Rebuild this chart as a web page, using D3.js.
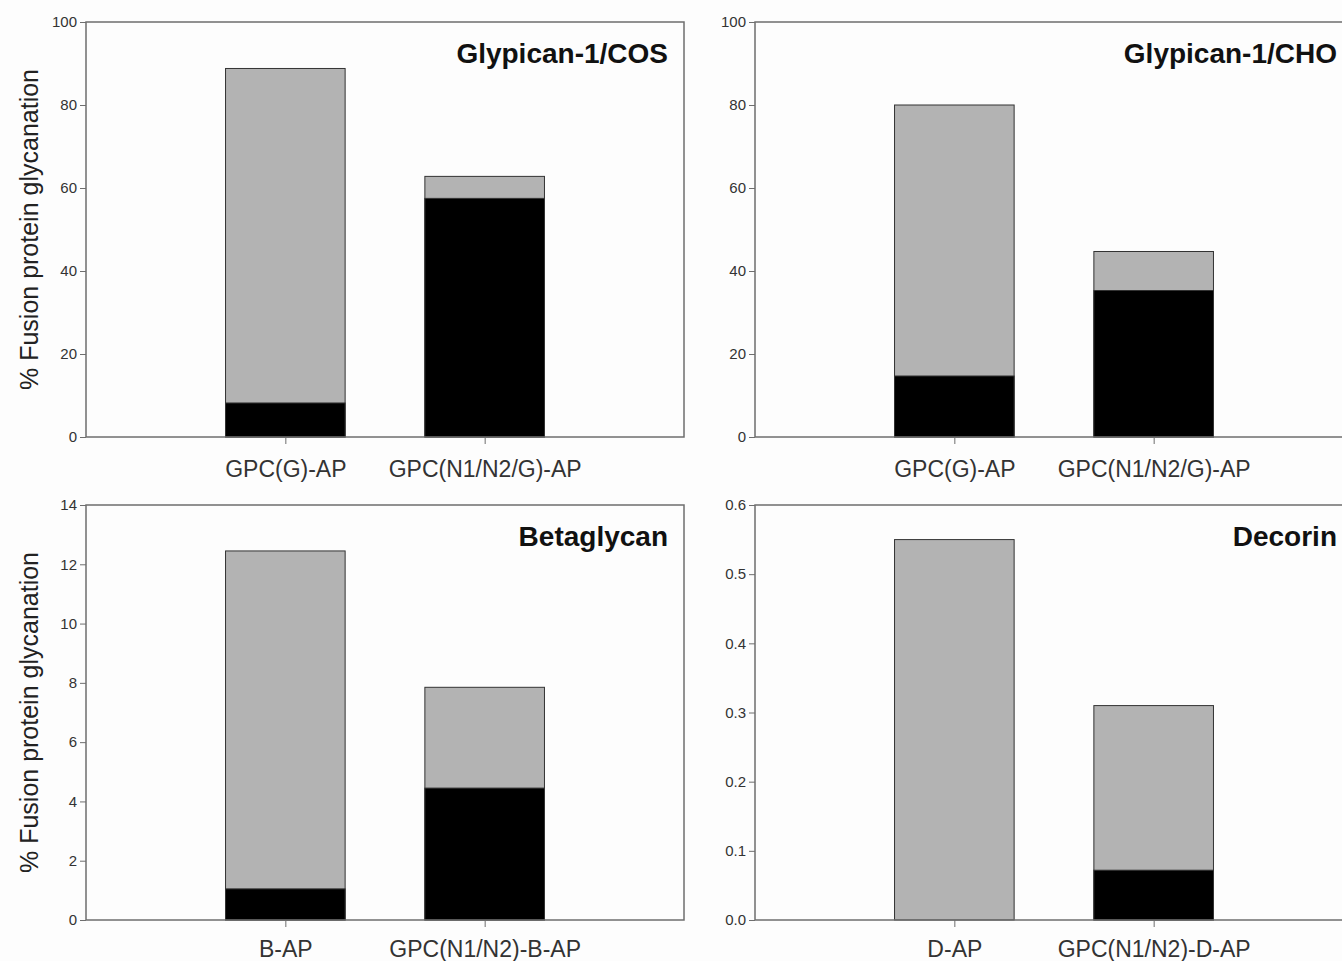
<!DOCTYPE html>
<html>
<head>
<meta charset="utf-8">
<script src="https://cdn.jsdelivr.net/npm/d3@7"></script>
<style>
  body { margin: 0; background: #fdfdfd; }
  svg { display: block; font-family: "Liberation Sans", Arial, sans-serif; }
  .tick text { fill: #333; }
</style>
</head>
<body>
<div id="chart"></div>
<script>
// panel data (one entry per panel, left-to-right, top-to-bottom)
var panelTitles = ["Glypican-1/COS", "Glypican-1/CHO", "Betaglycan", "Decorin"];

var categories = [
  ["GPC(G)-AP", "GPC(N1/N2/G)-AP"],
  ["GPC(G)-AP", "GPC(N1/N2/G)-AP"],
  ["B-AP", "GPC(N1/N2)-B-AP"],
  ["D-AP", "GPC(N1/N2)-D-AP"]
];

// total height of each bar (grey + black)
var totalValues = [
  [88.8, 62.8],
  [80.0, 44.7],
  [12.45, 7.85],
  [0.55, 0.31]
];

// black (lower) part of each bar
var blackValues = [
  [8.2, 57.5],
  [14.7, 35.3],
  [1.05, 4.45],
  [0, 0.072]
];

var yTickValues = [
  [0, 20, 40, 60, 80, 100],
  [0, 20, 40, 60, 80, 100],
  [0, 2, 4, 6, 8, 10, 12, 14],
  [0, 0.1, 0.2, 0.3, 0.4, 0.5, 0.6]
];
var yTickFormats = ["d", "d", "d", ".1f"];

var yLabel = "% Fusion protein glycanation";

var width = 1342, height = 961;
var panelW = 598, panelH = 415;
var origins = [[86, 22], [755, 22], [86, 505], [755, 505]];

var svg = d3.select("#chart").append("svg")
  .attr("width", width)
  .attr("height", height);

svg.append("rect").attr("width", width).attr("height", height).attr("fill", "#fdfdfd");

panelTitles.forEach(function (title, p) {
  var g = svg.append("g")
    .attr("transform", "translate(" + origins[p][0] + "," + origins[p][1] + ")");

  var x = d3.scalePoint()
    .domain(categories[p])
    .range([0, panelW])
    .padding(1);
  var barW = x.step() * 0.6;

  var yMax = yTickValues[p][yTickValues[p].length - 1];
  var y = d3.scaleLinear().domain([0, yMax]).range([panelH, 0]);

  // grey part: full bar
  g.selectAll("rect.grey")
    .data(categories[p])
    .enter().append("rect")
    .attr("class", "grey")
    .attr("x", function (d) { return x(d) - barW / 2; })
    .attr("y", function (d, i) { return y(totalValues[p][i]); })
    .attr("width", barW)
    .attr("height", function (d, i) { return y(0) - y(totalValues[p][i]); })
    .attr("fill", "#b3b3b3")
    .attr("stroke", "#333")
    .attr("stroke-width", 1);

  // black part
  g.selectAll("rect.black")
    .data(categories[p].filter(function (d, i) { return blackValues[p][i] > 0; }))
    .enter().append("rect")
    .attr("class", "black")
    .attr("x", function (d) { return x(d) - barW / 2; })
    .attr("y", function (d) { return y(blackValues[p][categories[p].indexOf(d)]); })
    .attr("width", barW)
    .attr("height", function (d) { return y(0) - y(blackValues[p][categories[p].indexOf(d)]); })
    .attr("fill", "#000")
    .attr("stroke", "#333")
    .attr("stroke-width", 1);

  // frame
  g.append("rect")
    .attr("width", panelW)
    .attr("height", panelH)
    .attr("fill", "none")
    .attr("stroke", "#6e6e6e")
    .attr("stroke-width", 1.5);

  var yaxis = d3.axisLeft(y)
    .tickValues(yTickValues[p])
    .tickFormat(d3.format(yTickFormats[p]))
    .tickSize(6)
    .tickSizeOuter(0);
  var ya = g.append("g").attr("class", "yaxis").call(yaxis);
  ya.select(".domain").remove();
  ya.selectAll("line").attr("stroke", "#6e6e6e");
  ya.selectAll("text").attr("font-size", 15).attr("x", -9);

  var xaxis = d3.axisBottom(x).tickSize(7).tickSizeOuter(0);
  var xa = g.append("g")
    .attr("class", "xaxis")
    .attr("transform", "translate(0," + panelH + ")")
    .call(xaxis);
  xa.select(".domain").remove();
  xa.selectAll("line").attr("stroke", "#6e6e6e");
  xa.selectAll("text")
    .attr("font-size", 23)
    .attr("fill", "#222")
    .attr("y", p < 2 ? 40 : 37)
    .attr("dy", null);

  // panel title
  g.append("text")
    .attr("x", panelW - 16)
    .attr("y", 41)
    .attr("text-anchor", "end")
    .attr("font-size", 28)
    .attr("font-weight", "bold")
    .attr("fill", "#111")
    .text(title);

  // y label only on left panels
  if (p % 2 == 0) {
    g.append("text")
      .attr("transform", "rotate(-90)")
      .attr("x", -panelH / 2)
      .attr("y", -48)
      .attr("text-anchor", "middle")
      .attr("font-size", 25)
      .attr("fill", "#222")
      .text(yLabel);
  }
});
</script>
</body>
</html>
